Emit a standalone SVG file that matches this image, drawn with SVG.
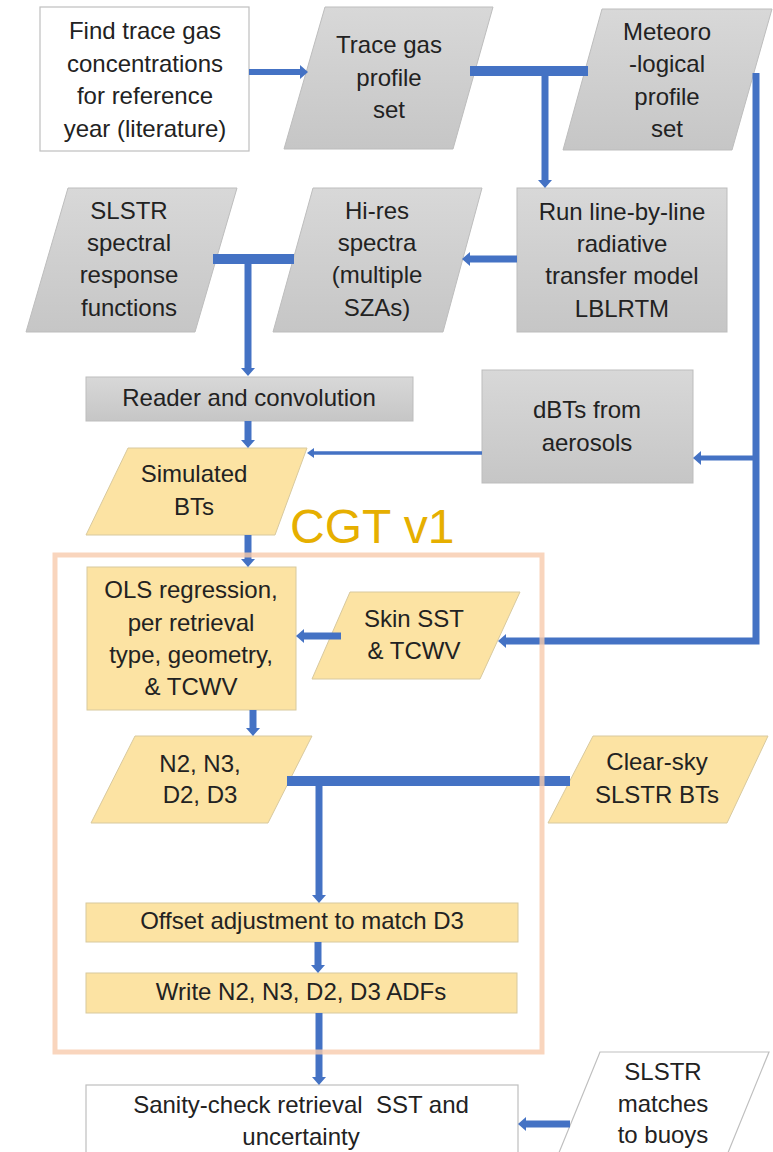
<svg xmlns="http://www.w3.org/2000/svg" width="773" height="1152" viewBox="0 0 773 1152">
<style>
text{font-family:"Liberation Sans",Arial,sans-serif;font-size:24px;fill:#222;text-anchor:middle}
.gray{fill:url(#gg);stroke:#BDBDBD;stroke-width:1}
.yel{fill:#FCE3A3;stroke:#D8C99E;stroke-width:1}
.white{fill:#fff;stroke:#BFBFBF;stroke-width:1.2}
.c{stroke:#4472C4;fill:none}
.cgt{font-size:48px;fill:#E6AF00;text-anchor:start}
</style>
<defs>
<linearGradient id="gg" x1="0" y1="0" x2="0" y2="1"><stop offset="0" stop-color="#D8D8D8"/><stop offset="1" stop-color="#C6C6C6"/></linearGradient>
<marker id="ah" viewBox="0 -7 8 14" markerWidth="8" markerHeight="14" refX="0" refY="0" orient="auto" markerUnits="userSpaceOnUse"><path d="M0,-7 L8,0 L0,7 z" fill="#4472C4"/></marker>
<marker id="ahs" viewBox="0 -5 7 10" markerWidth="7" markerHeight="10" refX="0" refY="0" orient="auto" markerUnits="userSpaceOnUse"><path d="M0,-5 L7,0 L0,5 z" fill="#4472C4"/></marker>
</defs>

<g id="find"><rect class="white" x="40" y="7" width="209" height="144"/>
<text x="145" y="39">Find trace gas</text><text x="145" y="71.5">concentrations</text><text x="145" y="104">for reference</text><text x="145" y="137">year (literature)</text></g>

<g id="trace"><polygon class="gray" points="325,7 493,7 453,149 284,149"/>
<text x="389" y="53">Trace gas</text><text x="389" y="86">profile</text><text x="389" y="118">set</text></g>

<g id="meteo"><polygon class="gray" points="602,9 772,9 732,150 563,150"/>
<text x="667" y="40">Meteoro</text><text x="667" y="72">-logical</text><text x="667" y="105">profile</text><text x="667" y="137">set</text></g>

<g id="srf"><polygon class="gray" points="68,188 237,188 195,332 26,332"/>
<text x="129" y="219">SLSTR</text><text x="129" y="251">spectral</text><text x="129" y="283">response</text><text x="129" y="316">functions</text></g>

<g id="hires"><polygon class="gray" points="313,188 482,188 443,332 273,332"/>
<text x="377" y="219">Hi-res</text><text x="377" y="251">spectra</text><text x="377" y="283">(multiple</text><text x="377" y="316">SZAs)</text></g>

<g id="lbl"><rect class="gray" x="517" y="188" width="210" height="144"/>
<text x="622" y="220">Run line-by-line</text><text x="622" y="252">radiative</text><text x="622" y="284">transfer model</text><text x="622" y="317">LBLRTM</text></g>

<g id="reader"><rect class="gray" x="86" y="377" width="327" height="44"/>
<text x="249" y="406">Reader and convolution</text></g>

<g id="dbts"><rect class="gray" x="482" y="370" width="211" height="113"/>
<text x="587" y="418">dBTs from</text><text x="587" y="451">aerosols</text></g>

<g id="sim"><polygon class="yel" points="128,448 307,448 275,535 86,535"/>
<text x="194" y="482">Simulated</text><text x="194" y="515">BTs</text></g>

<g id="ols"><rect class="yel" x="87" y="567" width="209" height="143"/>
<text x="191" y="598">OLS regression,</text><text x="191" y="631">per retrieval</text><text x="191" y="663">type, geometry,</text><text x="191" y="695">&amp; TCWV</text></g>

<g id="skin"><polygon class="yel" points="350,592 520,592 480,679 312,679"/>
<text x="414" y="627">Skin SST</text><text x="414" y="659">&amp; TCWV</text></g>

<g id="n2"><polygon class="yel" points="135,736 312,736 268,823 91,823"/>
<text x="200" y="772">N2, N3,</text><text x="200" y="803">D2, D3</text></g>

<g id="clear"><polygon class="yel" points="593,736 768,736 727,823 548,823"/>
<text x="657" y="770">Clear-sky</text><text x="657" y="803">SLSTR BTs</text></g>

<g id="offset"><rect class="yel" x="86" y="903" width="432" height="39"/>
<text x="302" y="929">Offset adjustment to match D3</text></g>

<g id="write"><rect class="yel" x="86" y="973" width="431" height="40"/>
<text x="301" y="1000">Write N2, N3, D2, D3 ADFs</text></g>

<g id="sanity"><rect class="white" x="86" y="1085" width="432" height="80"/>
<text x="301" y="1113" xml:space="preserve">Sanity-check retrieval  SST and</text><text x="301" y="1145">uncertainty</text></g>

<g id="buoys"><polygon class="white" points="600,1052 769,1052 725,1160 556,1160"/>
<text x="663" y="1080">SLSTR</text><text x="663" y="1112">matches</text><text x="663" y="1143">to buoys</text></g>

<g id="connectors">
<line class="c" x1="249" y1="72" x2="300" y2="72" stroke-width="6" marker-end="url(#ah)"/>
<line class="c" x1="470" y1="71" x2="588" y2="71" stroke-width="10"/>
<line class="c" x1="545" y1="66" x2="545" y2="180" stroke-width="7" marker-end="url(#ah)"/>
<path class="c" d="M756 73 V641 H506" stroke-width="7" marker-end="url(#ah)"/>
<line class="c" x1="756" y1="458" x2="701" y2="458" stroke-width="5" marker-end="url(#ah)"/>
<line class="c" x1="517" y1="259" x2="470" y2="259" stroke-width="7" marker-end="url(#ah)"/>
<line class="c" x1="213" y1="259" x2="294" y2="259" stroke-width="10"/>
<line class="c" x1="248" y1="254" x2="248" y2="368" stroke-width="7" marker-end="url(#ah)"/>
<line class="c" x1="248" y1="421" x2="248" y2="440" stroke-width="7" marker-end="url(#ah)"/>
<line class="c" x1="482" y1="453" x2="314" y2="453" stroke-width="3.5" marker-end="url(#ahs)"/>
<line class="c" x1="248" y1="535" x2="248" y2="559" stroke-width="7" marker-end="url(#ah)"/>
<line class="c" x1="341" y1="636" x2="304" y2="636" stroke-width="7" marker-end="url(#ah)"/>
<line class="c" x1="253" y1="710" x2="253" y2="728" stroke-width="7" marker-end="url(#ah)"/>
<line class="c" x1="287" y1="781" x2="570" y2="781" stroke-width="10"/>
<line class="c" x1="319" y1="776" x2="319" y2="895" stroke-width="7" marker-end="url(#ah)"/>
<line class="c" x1="318" y1="942" x2="318" y2="965" stroke-width="7" marker-end="url(#ah)"/>
<line class="c" x1="319" y1="1013" x2="319" y2="1077" stroke-width="7" marker-end="url(#ah)"/>
<line class="c" x1="570" y1="1124" x2="526" y2="1124" stroke-width="7" marker-end="url(#ah)"/>
</g>

<g id="cgt">
<rect x="55" y="555" width="487" height="497" fill="none" stroke="#F8CBAD" stroke-width="5" stroke-opacity="0.8"/>
<text class="cgt" x="290" y="543">CGT v1</text>
</g>
</svg>
